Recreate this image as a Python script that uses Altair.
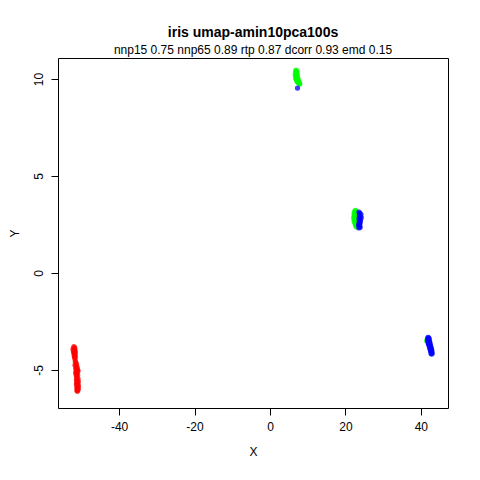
import altair as alt
import pandas as pd

# setosa (red)
setosa_x = [-52.0, -51.8, -51.9, -52.2, -51.7, -51.9, -52.1, -51.8, -51.6, -52.0, -51.9, -51.7, -51.8, -51.9, -51.6, -51.8, -51.7,
            -51.6, -51.5, -51.3, -51.7, -51.2, -51.5, -51.1, -51.4, -51.0, -51.3, -51.5, -51.2, -51.4, -51.0, -51.3, -50.9,
            -51.2, -50.9, -51.3, -51.1, -50.8, -51.2, -51.0, -51.3, -51.1, -50.8, -51.2, -50.9, -51.1, -50.8, -51.2, -51.0, -51.1]
setosa_y = [-3.80, -3.85, -3.90, -3.92, -3.95, -4.00, -4.02, -4.05, -4.08, -4.10, -4.15, -4.18, -4.20, -4.25, -4.30, -4.35, -4.42,
            -4.55, -4.62, -4.70, -4.75, -4.82, -4.88, -4.92, -4.98, -5.02, -5.08, -5.12, -5.18, -5.22, -5.26, -5.30, -5.05,
            -5.40, -5.45, -5.50, -5.55, -5.60, -5.62, -5.68, -5.72, -5.75, -5.80, -5.85, -5.88, -5.92, -5.98, -6.02, -6.06, -6.10]

# versicolor (green): top cluster, middle cluster, one on the right
versicolor_x = [6.9, 7.1, 6.8, 7.0, 7.2, 6.9, 7.0, 6.7, 7.1, 6.9, 7.3, 7.0, 6.8, 7.2, 7.4, 7.0, 7.3, 7.5, 7.1, 7.6, 7.3, 7.7, 7.5, 7.8, 7.9,
                22.6, 22.9, 22.4, 22.7, 23.0, 22.3, 22.6, 22.8, 22.4, 22.5, 22.2, 22.7, 22.4, 22.3, 22.6, 22.5, 22.3, 22.7, 22.5, 22.6, 22.8, 22.7, 22.9, 23.0,
                41.5]
versicolor_y = [10.45, 10.40, 10.38, 10.35, 10.30, 10.28, 10.25, 10.22, 10.20, 10.15, 10.12, 10.10, 10.05, 10.02, 10.00, 9.98, 9.95, 9.92, 9.90, 9.88, 9.85, 9.82, 9.80, 9.76, 9.74,
                3.22, 3.18, 3.15, 3.12, 3.08, 3.05, 3.02, 2.98, 2.95, 2.92, 2.88, 2.85, 2.82, 2.78, 2.75, 2.72, 2.68, 2.65, 2.60, 2.55, 2.50, 2.45, 2.40, 2.37,
                -3.50]

# virginica (blue)
virginica_x = [7.3,
               23.6, 23.8, 24.1, 23.7, 23.9, 24.2, 23.6, 23.8, 24.0, 23.7, 23.9, 23.6, 23.8, 23.5, 23.7, 23.9, 23.6,
               41.9, 42.1, 41.8, 42.2, 42.0, 41.8, 42.3, 42.1, 41.9, 42.2, 42.4, 42.0, 42.3, 42.1, 42.5, 42.2,
               42.4, 42.6, 42.3, 42.5, 42.7, 42.4, 42.6, 42.8, 42.5, 42.7, 42.9, 42.6, 42.8, 43.0, 42.7, 42.9]
virginica_y = [9.53,
               3.14, 3.08, 3.02, 2.96, 2.90, 2.85, 2.80, 2.75, 2.70, 2.65, 2.60, 2.55, 2.50, 2.45, 2.40, 2.36, 2.32,
               -3.32, -3.35, -3.38, -3.40, -3.44, -3.47, -3.50, -3.52, -3.55, -3.58, -3.60, -3.63, -3.66, -3.68, -3.70, -3.73,
               -3.76, -3.78, -3.80, -3.83, -3.86, -3.88, -3.90, -3.93, -3.96, -3.98, -4.00, -4.04, -4.08, -4.12, -4.15, -4.18]

species = ["setosa", "versicolor", "virginica"]
colors = ["#FF0000", "#00FF00", "#0000FF"]

rows = []
for sp, xs, ys in [("setosa", setosa_x, setosa_y),
                   ("versicolor", versicolor_x, versicolor_y),
                   ("virginica", virginica_x, virginica_y)]:
    for x, y in zip(xs, ys):
        rows.append({"X": x, "Y": y, "species": sp, "order": len(rows)})
df = pd.DataFrame(rows)

font = "Liberation Sans"

chart = alt.Chart(df).mark_circle(size=28, opacity=0.75).encode(
    x=alt.X("X:Q", scale=alt.Scale(domain=[-56.2, 47.2], nice=False, zero=False),
            axis=alt.Axis(values=[-40, -20, 0, 20, 40], labelExpr="datum.value + ''",
                          title="X", titlePadding=14)),
    y=alt.Y("Y:Q", scale=alt.Scale(domain=[-6.96, 11.08], nice=False, zero=False),
            axis=alt.Axis(values=[-5, 0, 5, 10], labelExpr="datum.value + ''",
                          labelAngle=270, labelAlign="center", labelBaseline="bottom",
                          title="Y", titlePadding=11)),
    color=alt.Color("species:N", scale=alt.Scale(domain=species, range=colors), legend=None),
    order="order:Q",
).properties(
    width=390,
    height=350,
    autosize=alt.AutoSizeParams(type="none"),
    padding={"left": 50, "top": 50, "right": 24, "bottom": 56},
    title=alt.Title("iris umap-amin10pca100s",
                    subtitle="nnp15 0.75 nnp65 0.89 rtp 0.87 dcorr 0.93 emd 0.15",
                    anchor="middle", font=font, fontSize=14, fontWeight="bold",
                    subtitleFont=font, subtitleFontSize=12, subtitleColor="black",
                    color="black", offset=2, subtitlePadding=5),
).configure_view(
    stroke="black", strokeWidth=1
).configure_axis(
    domain=False, grid=False, tickColor="black", tickSize=7,
    labelFont=font, labelFontSize=12, labelColor="black", labelPadding=6,
    titleFont=font, titleFontSize=12, titleColor="black", titleFontWeight="normal",
)

chart.save("out.html", embed_options={"renderer": "svg", "actions": False})
